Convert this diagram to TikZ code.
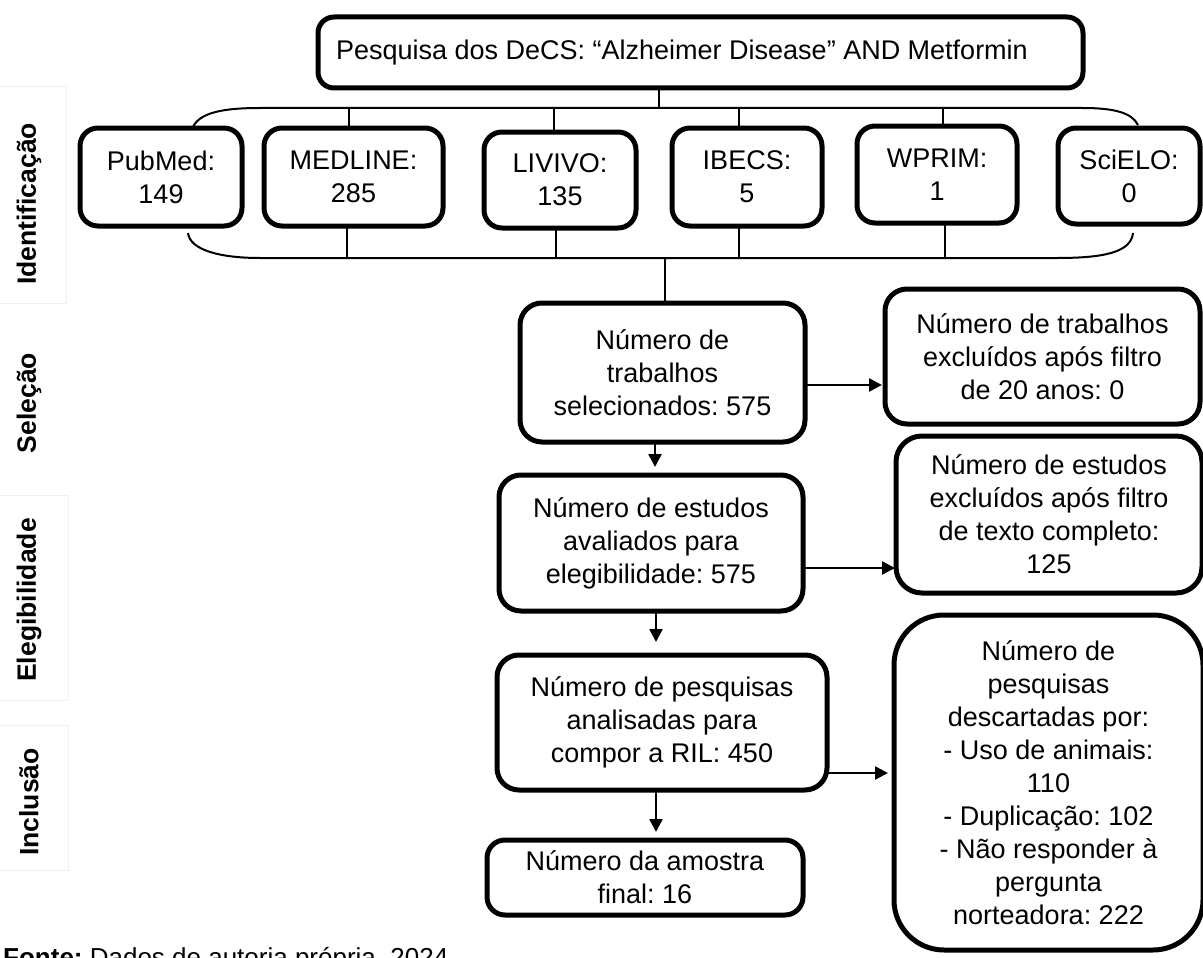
\documentclass[tikz,border=0pt]{standalone}
\usepackage{fontspec}
\setmainfont{Liberation Sans}
\usetikzlibrary{arrows.meta}
\frenchspacing
\begin{document}
\begin{tikzpicture}[x=1pt,y=-1pt,
  txt/.style={font=\fontsize{27}{33}\selectfont, align=center, inner sep=0pt},
  box/.style={txt, draw, line width=5pt, rounded corners=22pt},
  sbox/.style={txt, draw, line width=5pt, rounded corners=18pt},
  conn/.style={line width=2pt},
  arr/.style={line width=2.6pt, -{Triangle[length=13pt,width=13pt]}},
  side/.style={font=\fontsize{26.5}{30}\bfseries\selectfont, rotate=90, inner sep=0pt},
  panel/.style={draw=black!6, line width=1pt}]
\useasboundingbox (0,0) rectangle (1203,958);
\clip (0,0) rectangle (1203,958);

% faint side panels
\draw[panel] (-2,87) -- (66,87) -- (66,303) -- (-2,303);
\draw[panel] (-2,495) -- (68,495) -- (68,700) -- (-2,700);
\draw[panel] (-2,725) -- (68,725) -- (68,870) -- (-2,870);

% side labels
\node[side] (lid) at (29,204) {Identificação};
\node[side] (lsel) at (29,403) {Seleção};
\node[side] (leg) at (29,600) {Elegibilidade};
\node[side] (linc) at (29,802) {Inclusão};

% top box
\node[box, rounded corners=16pt, minimum width=765pt, minimum height=71pt] (top) at (700.5,52.5) {};
\node[txt] (toptxt) at (682,53) {Pesquisa dos DeCS: “Alzheimer Disease” AND Metformin};

% database boxes
\node[sbox, minimum width=162pt, minimum height=98pt] (pub) at (161,177) {PubMed:\\149};
\node[sbox, minimum width=179pt, minimum height=98pt] (med) at (353.5,177) {MEDLINE:\\285};
\node[sbox, minimum width=152pt, minimum height=96pt] (liv) at (560,180) {LIVIVO:\\135};
\node[sbox, minimum width=150pt, minimum height=98pt] (ibe) at (747,177) {IBECS:\\5};
\node[sbox, minimum width=160pt, minimum height=97pt] (wpr) at (937,174.5) {WPRIM:\\1};
\node[sbox, minimum width=142pt, minimum height=96pt] (sci) at (1129,176) {SciELO:\\0};

% main column
\node[box, minimum width=285pt, minimum height=139pt] (b1) at (662.5,372.5) {Número de\\trabalhos\\selecionados: 575};
\node[box, minimum width=304pt, minimum height=136pt] (b2) at (651,543) {Número de estudos\\avaliados para\\elegibilidade: 575};
\node[box, minimum width=330pt, minimum height=135pt] (b3) at (662,722.5) {Número de pesquisas\\analisadas para\\compor a RIL: 450};
\node[box, rounded corners=18pt, minimum width=316pt, minimum height=75pt] (b4) at (645,877.5) {Número da amostra\\final: 16};

% right column
\node[box, minimum width=315pt, minimum height=135pt] (r1) at (1042.5,356.5) {Número de trabalhos\\excluídos após filtro\\de 20 anos: 0};
\node[box, rounded corners=26pt, minimum width=306pt, minimum height=157pt] (r2) at (1049,514.5) {Número de estudos\\excluídos após filtro\\de texto completo:\\125};
\node[box, rounded corners=50pt, minimum width=309pt, minimum height=335pt] (r3) at (1048.5,782.5) {Número de\\pesquisas\\descartadas por:\\- Uso de animais:\\110\\- Duplicação: 102\\- Não responder à\\pergunta\\norteadora: 222};

% bracket coordinates
\coordinate (tl0) at (193,127);
\coordinate (tl1) at (260,108);
\coordinate (tr1) at (1083,108);
\coordinate (tr0) at (1138,125);
\coordinate (bl0) at (188,233);
\coordinate (bl1) at (260,258);
\coordinate (br1) at (1057,258);
\coordinate (br0) at (1133,233);

% top connector and bracket
\draw[conn] (659,88) -- (659,108);
\draw[conn] (tl0) .. controls (200,112) and (225,108) .. (tl1) -- (tr1) .. controls (1115,108) and (1132,113) .. (tr0);
\draw[conn] (349,108) -- (349,128);
\draw[conn] (554,108) -- (554,132);
\draw[conn] (739,108) -- (739,128);
\draw[conn] (943,108) -- (943,126);

% bottom bracket
\draw[conn] (bl0) .. controls (190,250) and (220,258) .. (bl1) -- (br1) .. controls (1105,258) and (1131,252) .. (br0);
\draw[conn] (347,226) -- (347,258);
\draw[conn] (556,228) -- (556,258);
\draw[conn] (739,226) -- (739,258);
\draw[conn] (945,223) -- (945,258);
\draw[conn] (665,258) -- (665,303);

% arrows
\draw[arr] (655,442) -- (655,467);
\draw[arr] (656,611) -- (656,642);
\draw[arr] (656,790) -- (656,832);
\draw[arr] (805,385) -- (882,385);
\draw[arr] (803,568) -- (895,568);
\draw[arr] (827,773) -- (888,773);

% caption (cut by the bottom edge, as in the reference)
\node[anchor=base west, inner sep=0pt, font=\fontsize{26}{30}\selectfont] (cap) at (3,966)
  {\textbf{Fonte:} Dados de autoria própria, 2024};
\end{tikzpicture}
\end{document}
